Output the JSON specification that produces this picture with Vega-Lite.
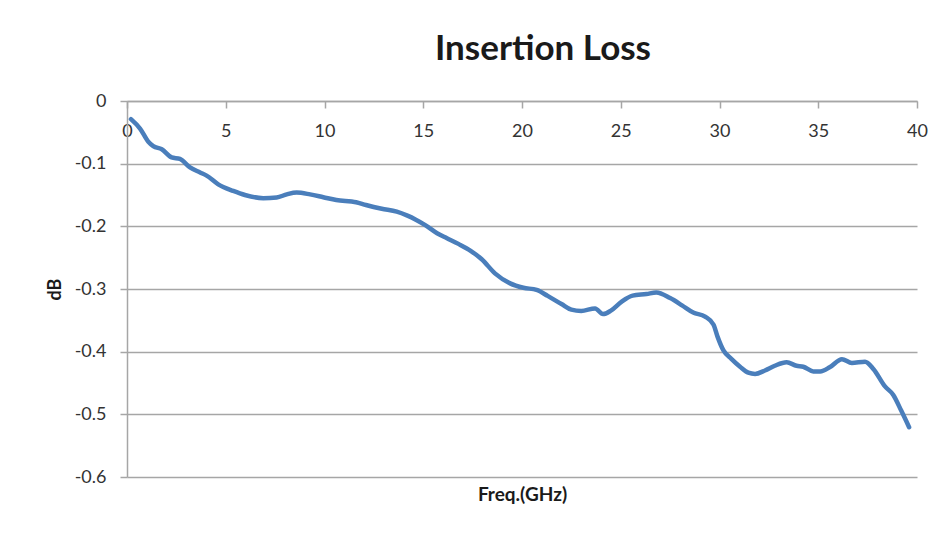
{
  "$schema": "https://vega.github.io/schema/vega-lite/v6.json",
  "width": 790,
  "height": 376,
  "autosize": "none",
  "padding": {"left": 127, "top": 101, "right": 28, "bottom": 56},
  "background": "white",
  "config": {"view": {"stroke": null}, "font": "Lato"},
  "title": {
    "text": "Insertion Loss",
    "font": "Lato",
    "fontSize": 35,
    "fontWeight": "bold",
    "color": "#1a1a1a",
    "anchor": "middle",
    "frame": "group",
    "baseline": "alphabetic",
    "dx": 21,
    "dy": 36,
    "offset": 33
  },
  "data": {
    "values": [
      {"freq": 0.2, "db": -0.029},
      {"freq": 0.66, "db": -0.044},
      {"freq": 1.08, "db": -0.065},
      {"freq": 1.33, "db": -0.072},
      {"freq": 1.76, "db": -0.077},
      {"freq": 2.26, "db": -0.09},
      {"freq": 2.68, "db": -0.0925},
      {"freq": 3.19, "db": -0.106},
      {"freq": 3.7, "db": -0.114},
      {"freq": 4.03, "db": -0.119},
      {"freq": 4.62, "db": -0.133},
      {"freq": 5.38, "db": -0.1435},
      {"freq": 5.97, "db": -0.15},
      {"freq": 6.9, "db": -0.155},
      {"freq": 7.58, "db": -0.154},
      {"freq": 8.09, "db": -0.149},
      {"freq": 8.59, "db": -0.146},
      {"freq": 9.27, "db": -0.149},
      {"freq": 9.94, "db": -0.1535},
      {"freq": 10.6, "db": -0.158},
      {"freq": 11.6, "db": -0.1615},
      {"freq": 12.1, "db": -0.166},
      {"freq": 12.9, "db": -0.172},
      {"freq": 13.66, "db": -0.1765},
      {"freq": 14.2, "db": -0.183},
      {"freq": 14.6, "db": -0.189},
      {"freq": 15.1, "db": -0.198},
      {"freq": 15.7, "db": -0.211},
      {"freq": 16.2, "db": -0.219},
      {"freq": 16.78, "db": -0.228},
      {"freq": 17.4, "db": -0.239},
      {"freq": 17.96, "db": -0.2525},
      {"freq": 18.63, "db": -0.275},
      {"freq": 19.4, "db": -0.291},
      {"freq": 20.07, "db": -0.298},
      {"freq": 20.74, "db": -0.3015},
      {"freq": 21.3, "db": -0.311},
      {"freq": 22.0, "db": -0.324},
      {"freq": 22.5, "db": -0.333},
      {"freq": 23.0, "db": -0.335},
      {"freq": 23.7, "db": -0.331},
      {"freq": 24.1, "db": -0.34},
      {"freq": 24.5, "db": -0.3345},
      {"freq": 25.05, "db": -0.32},
      {"freq": 25.6, "db": -0.3105},
      {"freq": 26.3, "db": -0.308},
      {"freq": 26.8, "db": -0.3055},
      {"freq": 27.5, "db": -0.3145},
      {"freq": 28.1, "db": -0.326},
      {"freq": 28.67, "db": -0.3375},
      {"freq": 29.27, "db": -0.344},
      {"freq": 29.7, "db": -0.357},
      {"freq": 29.9, "db": -0.376},
      {"freq": 30.2, "db": -0.398},
      {"freq": 30.6, "db": -0.4115},
      {"freq": 31.04, "db": -0.424},
      {"freq": 31.46, "db": -0.4335},
      {"freq": 31.8, "db": -0.4355},
      {"freq": 32.3, "db": -0.43},
      {"freq": 32.8, "db": -0.4225},
      {"freq": 33.4, "db": -0.417},
      {"freq": 33.9, "db": -0.4225},
      {"freq": 34.24, "db": -0.424},
      {"freq": 34.75, "db": -0.4315},
      {"freq": 35.1, "db": -0.4315},
      {"freq": 35.6, "db": -0.4245},
      {"freq": 36.2, "db": -0.412},
      {"freq": 36.7, "db": -0.418},
      {"freq": 37.37, "db": -0.416},
      {"freq": 37.8, "db": -0.428},
      {"freq": 38.38, "db": -0.4555},
      {"freq": 38.8, "db": -0.469},
      {"freq": 39.2, "db": -0.494},
      {"freq": 39.6, "db": -0.5205}
    ]
  },
  "mark": {"type": "line", "color": "#4a7ebb", "strokeWidth": 4.5, "interpolate": "monotone", "strokeCap": "round", "strokeJoin": "round"},
  "encoding": {
    "x": {
      "field": "freq",
      "type": "quantitative",
      "scale": {"domain": [0, 40], "nice": false},
      "axis": {
        "orient": "bottom",
        "offset": -376,
        "values": [0, 5, 10, 15, 20, 25, 30, 35, 40],
        "grid": false,
        "tickSize": 7,
        "tickColor": "#a6a6a6",
        "tickWidth": 1.5,
        "domainColor": "#a6a6a6",
        "domainWidth": 1.5,
        "labelFont": "Lato",
        "labelFontSize": 18,
        "labelColor": "#333333",
        "labelBaseline": "alphabetic",
        "labelPadding": 28,
        "labelFlush": false,
        "title": "Freq.(GHz)",
        "titleFont": "Lato",
        "titleFontSize": 19,
        "titleFontWeight": "bold",
        "titleColor": "#1a1a1a",
        "titleBaseline": "alphabetic",
        "titleY": 399
      }
    },
    "y": {
      "field": "db",
      "type": "quantitative",
      "scale": {"domain": [-0.6, 0], "nice": false},
      "axis": {
        "values": [0, -0.1, -0.2, -0.3, -0.4, -0.5, -0.6],
        "labelExpr": "datum.value == 0 ? '0' : '-' + format(-datum.value, '.1f')",
        "grid": true,
        "gridColor": "#a6a6a6",
        "gridWidth": 1.5,
        "tickSize": 7,
        "tickColor": "#a6a6a6",
        "tickWidth": 1.5,
        "domainColor": "#a6a6a6",
        "domainWidth": 1.5,
        "labelFont": "Lato",
        "labelFontSize": 18,
        "labelColor": "#333333",
        "labelPadding": 14,
        "title": "dB",
        "titleFont": "Lato",
        "titleFontSize": 18,
        "titleFontWeight": "bold",
        "titleColor": "#1a1a1a",
        "titleAngle": -90,
        "titleBaseline": "alphabetic",
        "titleAlign": "center",
        "titleX": -67,
        "titleY": 188
      }
    }
  }
}
